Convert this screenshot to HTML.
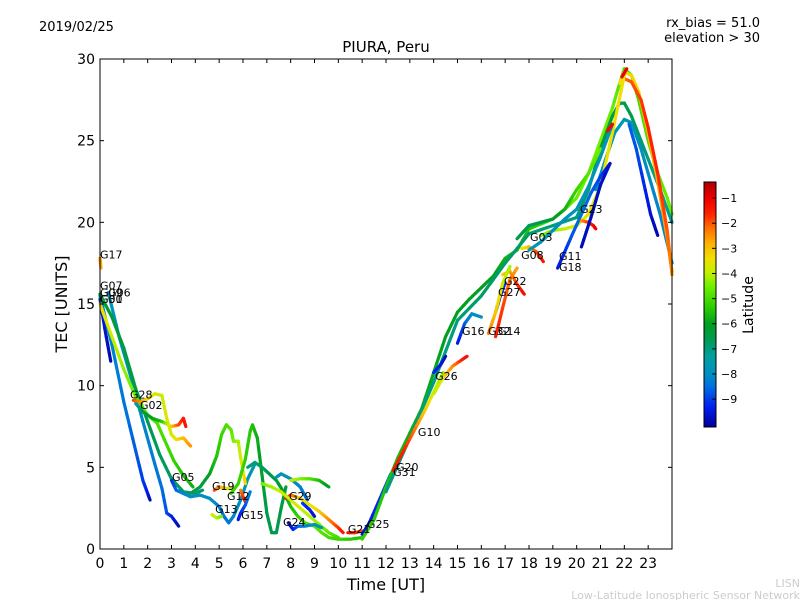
<!DOCTYPE html>
<html><head><meta charset="utf-8"><style>
body{margin:0;background:#fff;}
svg{display:block;font-family:"DejaVu Sans","Liberation Sans",sans-serif;}
</style></head><body>
<svg id="chart" width="800" height="600" viewBox="0 0 800 600" xmlns="http://www.w3.org/2000/svg">
<rect width="800" height="600" fill="#fff"/>
<text x="39" y="31" font-size="13">2019/02/25</text>
<text x="760" y="27" font-size="13" text-anchor="end">rx_bias = 51.0</text>
<text x="760" y="42" font-size="13" text-anchor="end">elevation &gt; 30</text>
<text x="386" y="52" font-size="15" text-anchor="middle">PIURA, Peru</text>
<text x="67" y="304" font-size="16" text-anchor="middle" transform="rotate(-90 67 304)">TEC [UNITS]</text>
<text x="386" y="590" font-size="16" text-anchor="middle">Time [UT]</text>
<text x="800" y="587" font-size="11" fill="#ccc" text-anchor="end">LISN</text>
<text x="800" y="599" font-size="11" fill="#ccc" text-anchor="end">Low-Latitude Ionospheric Sensor Network</text>
<g id="tracks"></g>
<g id="labels"></g>
<rect x="100" y="59" width="572" height="490" fill="none" stroke="#000" stroke-width="1"/>
<g id="axes"></g>
<defs><linearGradient id="cbg" x1="0" y1="1" x2="0" y2="0"></linearGradient></defs>
<rect x="704" y="182" width="12" height="245" fill="url(#cbg)" stroke="#000" stroke-width="1"/>
<g id="cbticks"></g>
<text x="753" y="305" font-size="14" text-anchor="middle" transform="rotate(-90 753 305)">Latitude</text>
</svg>
<script>
const xTicks=[0,1,2,3,4,5,6,7,8,9,10,11,12,13,14,15,16,17,18,19,20,21,22,23];
const yTicks=[0,5,10,15,20,25,30];
const cbTicks=[-1,-2,-3,-4,-5,-6,-7,-8,-9];
const cmapLat=[-10.1,-9.3,-8.5,-8,-7.3,-6.6,-6,-5.3,-4.5,-4,-3.4,-2.8,-2.2,-1.6,-1,-0.4];
const cmapCol=["#00009a","#0020f0","#0070e0","#0090c0","#00a0a0","#009a50","#00a020","#30d000","#70f000","#c0f000","#f0e000","#ffb000","#ff7000","#ff2000","#ee0000","#b00000"];

const trackTimes=[
[0,0.04],
[0,0.2,0.45],
[0,0.5,1,1.5,1.8,2.0,2.1],
[0.35,0.8,1.3,1.8,2.3,2.6,2.8,3.0,3.3],
[0,0.5,1.0,1.5,2.0,2.5,3.0,3.5,4.0,4.3],
[0,0.3,0.6,1.0,1.5,2.0,2.4,2.7,3.1,3.5,3.9],
[1.4,1.7,2.0,2.3,2.6,2.8,3.0,3.2,3.5,3.8],
[1.5,1.8,2.2,2.6,3.0,3.3,3.5,3.6],
[3.0,3.2,3.5,3.8,4.2,4.6,5.0,5.2,5.4,5.6,5.9,6.2,6.5],
[3.8,4.2,4.6,4.9,5.1,5.3,5.5,5.6,5.8,5.9,6.0,6.1],
[5.5,5.8,6.1,6.3,6.4,6.6,6.8,7.0,7.2,7.4,7.6,7.8],
[6.2,6.5,6.8,7.1,7.4,7.7,8.0,8.3,8.6,9.0,9.3,9.6,10.0,10.5,11.0],
[7.4,7.6,8.0,8.4,8.7],
[8.0,8.4,8.8,9.2,9.6],
[7.8,8.0,8.4,8.8,9.2,9.6,10.0,10.2],
[6.8,7.2,7.6,8.0,8.4,8.8,9.2,9.6,10.0],
[8.5,8.8,9.0],
[7.9,8.1,8.3,8.6,9.0,9.3],
[4.8,5.0,5.3,5.5],
[5.9,6.0,6.1,6.25],
[5.8,5.9,6.1,6.3],
[4.7,4.9,5.1],
[10.4,10.7,11.0],
[11.0,11.3,11.6,11.9,12.2],
[11.0,11.5,12.0,12.5,13.0,13.5,14.0,14.5,15.0,15.5,16.0,16.5,17.0,17.5,18.0,18.5,19.0,19.5,20.0,20.5,21.0,21.5,21.8,22.0,22.3,22.6,23.0,23.4,23.8,24.0],
[12.0,13,14,15,16,17,18,19,20,20.5,21,21.5,21.8,22.0,22.3,22.7,23.1,23.5,24],
[20.8,21.2,21.6,22.0,22.3,22.7,23.0,23.5,24],
[22.2,22.5,22.8,23.1,23.4],
[21.8,22.0,22.3,22.6,23.0,23.4,23.8,24],
[22.0,22.3,22.7,23.0,23.4,23.8,24],
[18.5,19,19.5,20,20.5,21,21.5,22],
[19.2,19.5,19.8,20.2,20.6,21.0,21.4],
[20.2,20.5,20.7,20.8],
[20.2,20.6,21.0,21.4],
[17.7,18.0,18.3,18.6],
[16.9,17.2,17.5,17.8],
[16.6,16.8,17.0],
[16.3,16.6,16.9,17.2],
[16.6,16.9,17.2,17.5],
[15.0,15.3,15.6,16.0],
[14.0,14.4,14.8,15.2,15.4],
[14.0,14.3,14.5],
[12.3,12.8,13.2,13.6,14.0,14.4],
[17.5,18,18.5,19,19.5,20,20.5,21],
[18,18.5,19,19.5,20,20.5,21,21.5],
[21.3,21.5],
[21.9,22.1]
];
const trackTec=[
[17.8,17.2],
[15.3,13.5,11.5],
[15.5,12.5,9,6,4.2,3.4,3.0],
[15.7,13,10.5,7.8,5.2,3.7,2.2,2.0,1.4],
[15.6,14.2,12.3,9.8,7.8,5.8,4.3,3.5,3.4,3.6],
[15,13.8,12.6,11,9.3,8.2,7.7,6.7,5.4,4.5,3.8],
[9.1,9.0,9.2,9.5,9.4,8.0,7.0,6.7,6.8,6.3],
[8.9,8.4,8.0,7.8,7.5,7.6,8.0,7.5],
[4.2,3.6,3.4,3.2,3.3,3.1,2.6,2.0,1.6,2.0,3.0,4.3,5.2],
[3.4,3.8,4.6,5.7,7.0,7.6,7.3,6.6,6.6,5.6,4.8,4.0],
[3.4,4.0,5.5,7.2,7.6,6.8,4.5,2.2,1.0,1.0,2.5,3.8],
[5.0,5.3,5.0,4.6,4.2,3.5,2.6,2.0,1.6,1.4,1.0,0.7,0.6,0.6,0.7],
[4.4,4.6,4.3,3.8,3.0],
[4.2,4.3,4.3,4.2,3.8],
[3.1,3.3,3.1,2.7,2.3,1.8,1.3,1.0],
[4.0,3.8,3.5,3.0,2.5,2.0,1.5,1.0,0.7],
[2.8,2.4,2.0],
[1.6,1.2,1.4,1.4,1.5,1.3],
[3.6,3.8,3.7,3.7],
[3.6,3.2,2.9,3.3],
[1.8,2.2,2.7,3.5],
[2.1,1.9,2.0],
[1.0,1.0,1.1],
[0.9,1.6,2.6,3.6,4.6],
[0.6,1.8,3.8,5.6,7.1,8.6,10.8,13.0,14.5,15.3,16.0,16.7,17.8,18.3,19.6,19.9,20.2,20.8,21.5,23.0,25.0,27.0,28.5,29.4,29.0,27.5,25.0,23.0,21.5,20.5],
[3.5,6.8,10.2,14.0,15.5,17.5,19.3,19.8,20.3,22,24.5,26.5,27.3,27.3,26.5,25.0,23.5,22.0,20],
[22.0,23.8,25.5,26.3,26.1,24.5,23.0,20.5,17.5],
[26.0,24.5,22.5,20.5,19.2],
[28.5,29.2,29.0,28.0,25.5,22.5,19.0,17.0],
[28.8,28.6,27.5,25.8,23.0,19.5,16.8],
[19.2,19.5,19.6,19.8,20.5,22.2,25.5,29],
[17.2,18.2,19.2,20.5,21.8,22.8,23.6],
[20.1,20.0,19.8,19.6],
[18.5,20.3,22.3,23.6],
[18.4,18.5,18.2,17.6],
[16.8,17.0,16.2,15.6],
[14.5,15.5,16.3],
[13.2,14.5,16.3,17.3],
[13.0,14.8,16.5,17.2],
[12.6,13.8,14.4,14.2],
[9.5,10.5,11.2,11.6,11.8],
[10.8,11.3,11.8],
[4.8,6.2,7.3,8.4,9.6,10.8],
[19.0,19.8,20.0,20.2,20.8,22.0,23.0,24.5],
[18.3,18.8,19.5,20.2,20.8,22.2,24,26],
[25.6,26],
[28.9,29.4]
];
const trackLat=[
[-2.6,-2.7],
[-9.3,-9.6,-9.9],
[-8,-8.2,-8.4,-8.7,-9,-9.4,-9.8],
[-7.8,-7.9,-8,-8.1,-8.3,-8.5,-8.8,-9.2,-9.8],
[-6.2,-6.3,-6.4,-6.5,-6.6,-6.7,-6.7,-6.8,-6.8,-6.8],
[-3.2,-3.6,-4.0,-4.3,-4.6,-4.8,-4.9,-5,-5.2,-5.5,-5.8],
[-1.8,-2.4,-3.2,-3.8,-3.9,-3.6,-3.8,-3.5,-3.0,-2.5],
[-7.5,-6.5,-6,-5.6,-3.2,-2.0,-1.5,-1.4],
[-9.2,-8.6,-8.2,-8,-8,-8,-8.2,-8.5,-8.4,-8.2,-8,-7.8,-7.6],
[-6.8,-6.5,-6,-5.5,-5.2,-5,-4.8,-4.5,-4.2,-3.8,-3.5,-3.2],
[-5.2,-5.2,-5.3,-5.4,-5.5,-5.8,-6.2,-6.5,-6.6,-6.6,-6.5,-6.4],
[-7,-7,-6.8,-6.6,-6.4,-6,-5.6,-5.3,-5,-4.8,-4.8,-5,-5.2,-5.4,-5.5],
[-7.8,-7.8,-7.9,-8.2,-8.6],
[-4,-4.3,-4.8,-5.5,-6.2],
[-1.5,-1.8,-3.2,-3.5,-3.2,-2.5,-1.8,-1.4],
[-4.5,-4.2,-4,-3.8,-3.8,-4,-4.3,-4.7,-5],
[-9,-9.3,-9.6],
[-9.6,-9.4,-8.8,-8.2,-7.8,-7.6],
[-1.8,-2.5,-3.2,-3.8],
[-2.5,-1.8,-1.5,-1.3],
[-9.5,-9.3,-8.8,-8.2],
[-3.8,-4,-4.5],
[-1.3,-1.5,-2],
[-9.6,-9.4,-9.2,-9,-8.6],
[-5.2,-5.3,-5.5,-5.6,-5.8,-5.8,-5.9,-6,-6,-6,-6,-6,-5.8,-5.6,-5.5,-5.3,-5,-4.8,-4.6,-4.5,-4.5,-4.6,-4.8,-5,-5,-5,-5,-4.8,-4.6,-4.5],
[-7,-7,-7,-7,-6.8,-6.8,-6.8,-7,-7,-6.8,-6.6,-6.4,-6.4,-6.5,-6.6,-6.8,-7,-7.1,-7.2],
[-8,-8,-7.8,-7.7,-7.8,-8,-8.1,-8.2,-8.3],
[-8.6,-8.8,-9.2,-9.6,-9.9],
[-3.5,-3.4,-3.3,-3.2,-3.0,-2.8,-2.6,-2.4],
[-2.2,-2.0,-1.8,-1.6,-1.6,-2,-2.5],
[-4.5,-4.3,-4,-3.8,-3.6,-3.5,-3.4,-3.4],
[-9.4,-9.2,-8.8,-8.5,-8.6,-9,-9.5],
[-2.6,-1.8,-1.3,-1.0],
[-9.8,-9.8,-9.7,-9.6],
[-3.8,-3,-2,-1.3],
[-3.2,-2.8,-1.8,-1.2],
[-9.6,-9.4,-9],
[-2.2,-3.0,-3.8,-4.2],
[-1.5,-1.8,-2.2,-2.7],
[-9.5,-8.8,-8,-7.9],
[-4.3,-3.3,-2.5,-1.6,-1.3],
[-9.2,-9.5,-9.7],
[-1.4,-1.6,-2.2,-3,-3.8,-4.3],
[-6.5,-6.7,-6.6,-6.3,-5.8,-5.2,-4.8,-4.6],
[-7.6,-7.8,-8,-8,-7.9,-7.8,-7.8,-7.7],
[-1.2,-1.1],
[-1,-1]
];
const labelNames=["G17","G07","G09","G06","G30","G01","G28","G02","G05","G19","G12","G29","G13","G15","G24","G21","G25","G20","G31","G10","G26","G16","G32","G14","G27","G22","G08","G03","G11","G18","G23"];
const labelTimes=[0,0,0,0.34,0,0,1.26,1.68,3.02,4.7,5.33,7.93,4.83,5.92,7.68,10.4,11.2,12.42,12.3,13.34,14.06,15.19,16.28,16.7,16.7,16.95,17.67,18.04,19.26,19.26,20.14];
const labelTec=[17.8,15.9,15.45,15.45,15.05,15.05,9.2,8.57,4.16,3.6,3.0,3.0,2.2,1.84,1.41,0.98,1.29,4.78,4.47,6.92,10.35,13.1,13.1,13.1,15.5,16.17,17.76,18.86,17.7,17.02,20.58];

const X0=100,X1=672,Y0=549,Y1=59,XMAX=24,YMAX=30;
function xs(t){return X0+(X1-X0)*t/XMAX;}
function ys(v){return Y0-(Y0-Y1)*v/YMAX;}
function hex(c){return [parseInt(c.substr(1,2),16),parseInt(c.substr(3,2),16),parseInt(c.substr(5,2),16)];}
function cmap(l){
  if(l<=cmapLat[0])return cmapCol[0];
  for(let i=1;i<cmapLat.length;i++){
    if(l<=cmapLat[i]){const f=(l-cmapLat[i-1])/(cmapLat[i]-cmapLat[i-1]);const a=hex(cmapCol[i-1]),b=hex(cmapCol[i]);
      return "rgb("+a.map((v,k)=>Math.round(v+(b[k]-v)*f)).join(",")+")";}
  }
  return cmapCol[cmapCol.length-1];
}
const NS="http://www.w3.org/2000/svg";
function mk(tag,attrs,parent){const e=document.createElementNS(NS,tag);for(const k in attrs)e.setAttribute(k,attrs[k]);parent.appendChild(e);return e;}

// gradient
const grad=document.getElementById('cbg');
const LMIN=-10.11,LMAX=-0.36;
for(let i=0;i<cmapLat.length;i++){
  const off=Math.max(0,Math.min(1,(cmapLat[i]-LMIN)/(LMAX-LMIN)));
  mk('stop',{offset:off,'stop-color':cmapCol[i]},grad);
}
const cbt=document.getElementById('cbticks');
cbTicks.forEach(v=>{
  const y=427-(v-LMIN)/(LMAX-LMIN)*245;
  const l=mk('line',{x1:712,x2:716,y1:y,y2:y,stroke:'#000'},cbt);
  
  
  const t=mk('text',{x:721,y:y+4,'font-size':11},cbt);t.textContent='\u2212'+Math.abs(v);
  
  
});

// tracks
const tg=document.getElementById('tracks');
for(let i=0;i<trackTimes.length;i++){
  const g=mk('g',{},tg);
  
  
  const T=trackTimes[i],V=trackTec[i],L=trackLat[i];
  for(let j=0;j<T.length-1;j++){
    const n=4;
    for(let k=0;k<n;k++){
      const f0=k/n,f1=(k+1)/n;
      const la=L[j]+(L[j+1]-L[j])*(f0+f1)/2;
      const s=mk('line',{x1:xs(T[j]+(T[j+1]-T[j])*f0),y1:ys(V[j]+(V[j+1]-V[j])*f0),x2:xs(T[j]+(T[j+1]-T[j])*f1),y2:ys(V[j]+(V[j+1]-V[j])*f1),stroke:cmap(la),'stroke-width':3.2,'stroke-linecap':'round'},g);
      
      
    }
  }
}
// labels
const lg=document.getElementById('labels');
labelNames.forEach((n,i)=>{
  const t=mk('text',{x:xs(labelTimes[i]),y:ys(labelTec[i]),'font-size':11,fill:'#000'},lg);
  t.textContent=n;
  
  
});
// axes
const ag=document.getElementById('axes');
xTicks.forEach(v=>{
  const x=xs(v);
  const a=mk('line',{x1:x,x2:x,y1:Y0,y2:Y0-4,stroke:'#000'},ag);
  
  
  const b=mk('line',{x1:x,x2:x,y1:Y1,y2:Y1+4,stroke:'#000'},ag);
  
  
  const t=mk('text',{x:x,y:Y0+19,'font-size':14,'text-anchor':'middle'},ag);t.textContent=v;
  
  
});
yTicks.forEach(v=>{
  const y=ys(v);
  const a=mk('line',{x1:X0,x2:X0+4,y1:y,y2:y,stroke:'#000'},ag);
  
  
  const b=mk('line',{x1:X1,x2:X1-4,y1:y,y2:y,stroke:'#000'},ag);
  
  
  const t=mk('text',{x:X0-5,y:y+5,'font-size':14,'text-anchor':'end'},ag);t.textContent=v;
  
  
});
</script>
</body></html>
